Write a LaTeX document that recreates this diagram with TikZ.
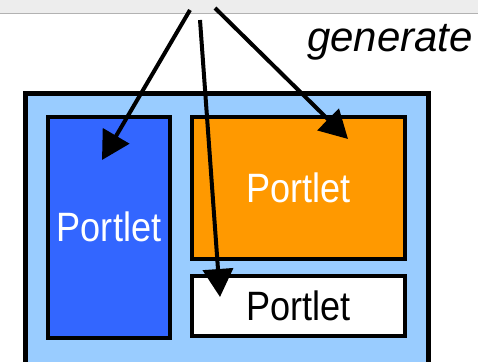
\documentclass[tikz,border=0pt]{standalone}
\usepackage{fontspec}
\setmainfont{Liberation Sans}
\newfontfamily\narrowsans[FakeStretch=0.88]{Liberation Sans}
\usepackage{tikz}
\usetikzlibrary{arrows.meta}

\definecolor{pageblue}{HTML}{99CCFF}
\definecolor{portletblue}{HTML}{3366FF}
\definecolor{portletorange}{HTML}{FF9900}

\begin{document}
\begin{tikzpicture}[x=1pt,y=-1pt,
                    gen/.style={-{Triangle[length=28pt,width=30pt]},line width=4pt},
                    page/.style={draw,line width=5pt,fill=pageblue,inner sep=0pt},
                    portlet/.style={draw,line width=4pt,inner sep=0pt,
                                    font=\narrowsans\fontsize{41}{44}\selectfont}]
%  \tikzstyle{every node}=[draw=none]
  \useasboundingbox (0,0) rectangle (478,361);
  \clip (0,0) rectangle (478,361);

  \fill[gray!14] (0,0) rectangle (478,14);
  \draw[gray!60,line width=1pt] (0,14) -- (478,14);

  \node[page]   (Page)   at (226.5,236)   [minimum width=403,minimum height=286] {};
  \node[portlet,fill=portletblue,text=white]   (Left)   at (109,227)
        [minimum width=122,minimum height=221] {Portlet};
  \node[portlet,fill=portletorange,text=white] (Top)    at (298.5,187.75)
        [minimum width=213,minimum height=141.5] {Portlet};
  \node[portlet,fill=white]                    (Bottom) at (298.5,305.5)
        [minimum width=213,minimum height=60] {Portlet};

  \node[anchor=base,font=\itshape\fontsize{42}{46}\selectfont] (Gen) at (390,52) {generate};

  \coordinate (S1) at (190,10);
  \coordinate (S2) at (200,20);
  \coordinate (S3) at (215,8);
  \coordinate (T1) at (102,160);
  \coordinate (T2) at (220,297);
  \coordinate (T3) at (348,139);

  \draw[gen] (S1) -- (T1);
  \draw[gen] (S2) -- (T2);
  \draw[gen] (S3) -- (T3);

\end{tikzpicture}
\end{document}
